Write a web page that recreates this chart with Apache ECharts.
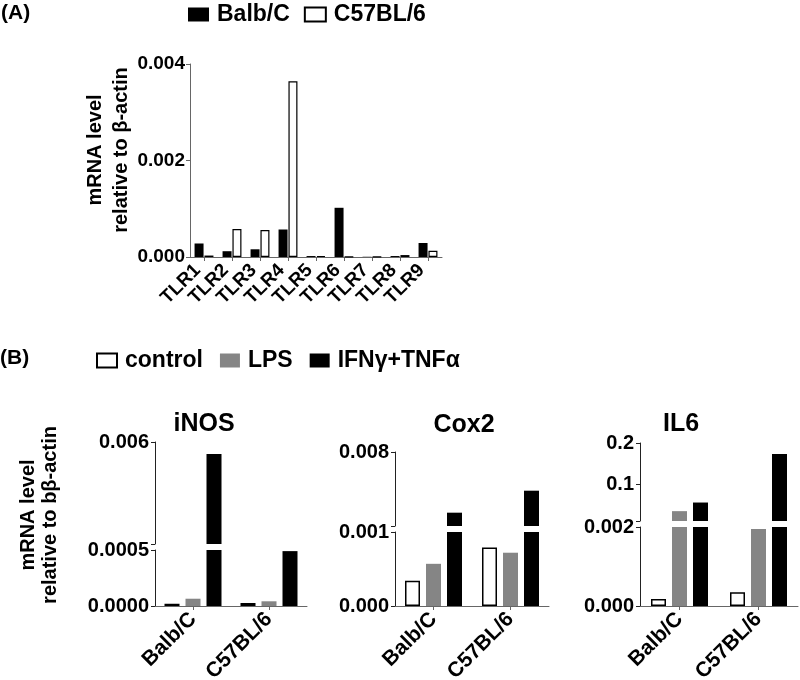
<!DOCTYPE html>
<html>
<head>
<meta charset="utf-8">
<script src="https://cdn.jsdelivr.net/npm/echarts@6/dist/echarts.min.js"></script>
<style>html,body{margin:0;padding:0;background:#fff}#c{width:800px;height:680px}</style>
</head>
<body>
<div id="c"></div>
<script>
// ---------- data ----------
const tlrCategories = ['TLR1','TLR2','TLR3','TLR4','TLR5','TLR6','TLR7','TLR8','TLR9'];
const tlrBalb = [0.00028, 0.00012, 0.00016, 0.00057, 0.00002, 0.00102, 0.000005, 0.00002, 0.00029];
const tlrC57  = [0.00003, 0.00058, 0.00056, 0.00364, 0.00002, 0.000005, 0.000005, 0.00004, 0.00013];
const tlrTicks = [0, 0.002, 0.004];

const strainCategories = ['Balb/C', 'C57BL/6'];
const treatmentNames = ['control', 'LPS', 'IFNγ+TNFα'];

const inosControl = [0.00002, 0.000027];
const inosLPS     = [0.000065, 0.000042];
const inosIFN     = [0.00535, 0.00049];
const inosLowTicks  = [0, 0.0005];
const inosHighTicks = [0.006];

const cox2Control = [0.00034, 0.00079];
const cox2LPS     = [0.00057, 0.00072];
const cox2IFN     = [0.00226, 0.00434];
const cox2LowTicks  = [0, 0.001];
const cox2HighTicks = [0.008];

const il6Control = [0.00018, 0.00035];
const il6LPS     = [0.034, 0.00195];
const il6IFN     = [0.055, 0.173];
const il6LowTicks  = [0, 0.002];
const il6HighTicks = [0.1, 0.2];

// ---------- styles ----------
const FONT = '"Liberation Sans", Arial, Helvetica, sans-serif';
const treatmentStyles = [
  { color: '#ffffff', borderColor: '#000000', borderWidth: 1.5 },
  { color: '#858585' },
  { color: '#000000' }
];

const grids = [], xAxes = [], yAxes = [], series = [];

function addGrid(rect) {
  grids.push(Object.assign({ outerBoundsMode: 'none', containLabel: false, show: false }, rect));
  return grids.length - 1;
}

// ---------- Panel A ----------
const gA = addGrid({ left: 190, top: 64, width: 252, height: 193 });
xAxes.push({
  type: 'category', gridIndex: gA, data: tlrCategories,
  axisLine: { show: true, lineStyle: { color: '#666', width: 1 } },
  axisTick: { show: true, alignWithLabel: true, length: 4, lineStyle: { color: '#666' } },
  axisLabel: { rotate: 45, margin: 4, interval: 0, padding: [0, 9, 0, 0], fontSize: 19, fontWeight: 'bold', color: '#000', fontFamily: FONT }
});
yAxes.push({
  type: 'value', gridIndex: gA, min: tlrTicks[0], max: tlrTicks[tlrTicks.length - 1],
  splitLine: { show: false },
  axisLine: { show: true, lineStyle: { color: '#666', width: 1 } },
  axisTick: { show: true, length: 4, customValues: tlrTicks, lineStyle: { color: '#666' } },
  axisLabel: { customValues: tlrTicks, margin: 5, formatter: v => v.toFixed(3), fontSize: 19, fontWeight: 'bold', color: '#000', fontFamily: FONT }
});
series.push({
  type: 'bar', name: 'Balb/C', xAxisIndex: xAxes.length - 1, yAxisIndex: yAxes.length - 1,
  data: tlrBalb, barWidth: 9, barGap: '10%', itemStyle: { color: '#000' }, clip: true
});
series.push({
  type: 'bar', name: 'C57BL/6', xAxisIndex: xAxes.length - 1, yAxisIndex: yAxes.length - 1,
  data: tlrC57, barWidth: 9, barGap: '10%', itemStyle: { color: '#fff', borderColor: '#000', borderWidth: 1.2 }, clip: true
});

// ---------- Panel B (broken axes: lower + upper segment) ----------
function addBroken(cfg) {
  const yAxisLine = { show: true, lineStyle: { color: '#222', width: 1 } };
  const labelStyle = { fontSize: 20, fontWeight: 'bold', color: '#000', fontFamily: FONT, margin: 6 };
  // lower segment
  const gl = addGrid({ left: cfg.left, width: cfg.width, top: cfg.lowTop, height: cfg.lowBottom - cfg.lowTop });
  xAxes.push({
    type: 'category', gridIndex: gl, data: strainCategories,
    axisLine: { show: true, lineStyle: { color: '#666', width: 1 } },
    axisTick: { show: true, alignWithLabel: true, length: 4, lineStyle: { color: '#666' } },
    axisLabel: { rotate: 45, margin: 10, interval: 0, fontSize: 21, fontWeight: 'bold', color: '#000', fontFamily: FONT }
  });
  yAxes.push({
    type: 'value', gridIndex: gl, min: cfg.lowTicks[0], max: cfg.lowTicks[cfg.lowTicks.length - 1],
    splitLine: { show: false }, axisLine: yAxisLine,
    axisTick: { show: true, length: 4, customValues: cfg.lowTicks, lineStyle: { color: '#222' } },
    axisLabel: Object.assign({ customValues: cfg.lowTicks, formatter: v => v.toFixed(cfg.lowDec) }, labelStyle)
  });
  const xl = xAxes.length - 1, yl = yAxes.length - 1;
  // upper segment
  const gh = addGrid({ left: cfg.left, width: cfg.width, top: cfg.highTop, height: cfg.highBottom - cfg.highTop });
  xAxes.push({ type: 'category', gridIndex: gh, data: strainCategories, show: false });
  yAxes.push({
    type: 'value', gridIndex: gh, min: cfg.highMin, max: cfg.highTicks[cfg.highTicks.length - 1],
    splitLine: { show: false }, axisLine: yAxisLine,
    axisTick: { show: true, length: 4, customValues: [cfg.highMin].concat(cfg.highTicks), lineStyle: { color: '#222' } },
    axisLabel: Object.assign({ customValues: cfg.highTicks, formatter: v => v.toFixed(cfg.highDec) }, labelStyle)
  });
  const xh = xAxes.length - 1, yh = yAxes.length - 1;
  cfg.values.forEach((vals, i) => {
    [[xl, yl], [xh, yh]].forEach(([xi, yi]) => {
      series.push({
        type: 'bar', name: treatmentNames[i], xAxisIndex: xi, yAxisIndex: yi,
        data: vals, barWidth: 15, barGap: '40%', itemStyle: treatmentStyles[i], clip: true
      });
    });
  });
}

addBroken({
  left: 155, width: 152, lowTop: 550, lowBottom: 606, highTop: 442, highBottom: 544,
  highMin: 0.0005, lowTicks: inosLowTicks, highTicks: inosHighTicks, lowDec: 4, highDec: 3,
  values: [inosControl, inosLPS, inosIFN]
});
addBroken({
  left: 395, width: 154, lowTop: 532, lowBottom: 606, highTop: 452, highBottom: 526,
  highMin: 0.001, lowTicks: cox2LowTicks, highTicks: cox2HighTicks, lowDec: 3, highDec: 3,
  values: [cox2Control, cox2LPS, cox2IFN]
});
addBroken({
  left: 640, width: 158, lowTop: 527, lowBottom: 606, highTop: 443, highBottom: 521,
  highMin: 0.01, lowTicks: il6LowTicks, highTicks: il6HighTicks, lowDec: 3, highDec: 1,
  values: [il6Control, il6LPS, il6IFN]
});

function txt(text, x, y, size, opts) {
  opts = opts || {};
  const align = opts.align || 'center';
  return {
    type: 'text', x: x, y: y, rotation: opts.rotation || 0, silent: true,
    style: {
      text: text, fill: '#000',
      font: 'bold ' + size + 'px ' + FONT,
      align: align, textAlign: align,
      verticalAlign: 'middle', textVerticalAlign: 'middle',
      lineHeight: opts.lineHeight || size
    }
  };
}

const legendText = { fontSize: 23, fontWeight: 'bold', color: '#000', fontFamily: FONT, padding: [0, 0, 0, 3] };

const option = {
  animation: false,
  backgroundColor: '#fff',
  legend: [
    { data: ['Balb/C', 'C57BL/6'], left: 188, top: 3, padding: 0, icon: 'rect', itemWidth: 21, itemHeight: 14, itemGap: 14, selectedMode: false, textStyle: legendText },
    { data: treatmentNames, left: 96, top: 349, padding: 0, icon: 'rect', itemWidth: 20, itemHeight: 14, itemGap: 17, selectedMode: false, textStyle: legendText }
  ],
  grid: grids,
  xAxis: xAxes,
  yAxis: yAxes,
  series: series,
  graphic: [
    txt('(A)', 1, 13, 21, { align: 'left' }),
    txt('(B)', 0, 358, 21, { align: 'left' }),
    txt('iNOS', 204, 424, 25),
    txt('Cox2', 464, 425, 25),
    txt('IL6', 681, 424, 25),
    txt('mRNA level\nrelative to β-actin', 108, 150, 20, { rotation: Math.PI / 2, lineHeight: 26 }),
    txt('mRNA level\nrelative to bβ-actin', 39, 515, 20, { rotation: Math.PI / 2, lineHeight: 22 })
  ]
};

const chart = echarts.init(document.getElementById('c'));
chart.setOption(option);
</script>
</body>
</html>
